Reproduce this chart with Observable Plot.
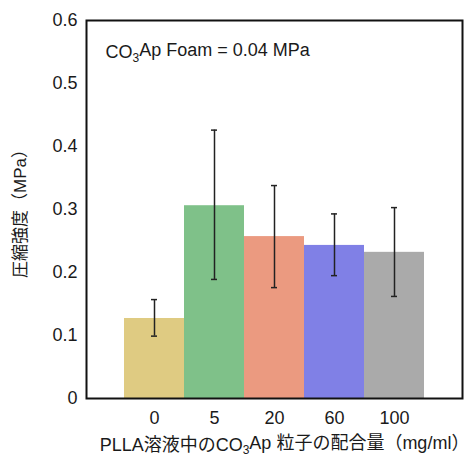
<!DOCTYPE html>
<html><head><meta charset="utf-8">
<script src="https://cdn.jsdelivr.net/npm/d3@7"></script>
<script src="https://cdn.jsdelivr.net/npm/@observablehq/plot@0.6"></script>
<style>
body{margin:0;background:#fff;}
#chart{width:469px;height:459px;}
</style>
</head><body><div id="chart"></div>
<script>
const categories = ["0", "5", "20", "60", "100"];
const strength = [0.127, 0.306, 0.257, 0.243, 0.232];
const errLow = [0.099, 0.189, 0.176, 0.195, 0.162];
const errHigh = [0.157, 0.426, 0.338, 0.293, 0.303];
const barColors = ["#dfcb82", "#7fc189", "#eb9a80", "#8080e6", "#aaaaaa"];
const yTicks = [0, 0.1, 0.2, 0.3, 0.4, 0.5, 0.6];
const annotation = "CO₃Ap Foam = 0.04 MPa";
const xTitle = "PLLA溶液中のCO₃Ap 粒子の配合量（mg/ml）";
const yTitle = "圧縮強度（MPa）";

const data = categories.map((c, i) => ({cat: c, v: strength[i], lo: errLow[i], hi: errHigh[i]}));

const font = "'Liberation Sans', Arial, 'Noto Sans CJK JP', sans-serif";

const chart = Plot.plot({
  width: 469,
  height: 459,
  marginLeft: 86,
  marginRight: 7,
  marginTop: 20,
  marginBottom: 61,
  style: {fontSize: "18px", fontFamily: font, color: "#1a1a1a", background: "#fff"},
  x: {domain: categories, paddingInner: 0, paddingOuter: 0.62, label: null},
  y: {domain: [0, 0.6], label: null},
  color: {domain: categories, range: barColors},
  marks: [
    Plot.barY(data, {x: "cat", y: "v", fill: "cat"}),
    Plot.ruleX(data, {x: "cat", y1: "lo", y2: "hi", stroke: "#222", strokeWidth: 1.5}),
    Plot.tickY(data, {x: "cat", y: "lo", stroke: "#222", strokeWidth: 1.5, insetLeft: 27, insetRight: 27}),
    Plot.tickY(data, {x: "cat", y: "hi", stroke: "#222", strokeWidth: 1.5, insetLeft: 27, insetRight: 27}),
    Plot.axisX({tickSize: 0, tickPadding: 13, label: null, fontSize: 18}),
    Plot.axisY({ticks: yTicks, tickSize: 0, tickPadding: 9, label: null, fontSize: 18,
      tickFormat: d => d === 0 ? "0" : d.toFixed(1)}),
    Plot.frame({stroke: "#111", strokeWidth: 2}),
    Plot.text([annotation], {text: d => d, frameAnchor: "top-left", textAnchor: "start", dx: 19, dy: 25, fontSize: 18, fill: "#1a1a1a"}),
    Plot.text([xTitle], {text: d => d, frameAnchor: "bottom", textAnchor: "middle", dx: 10, dy: 52, fontSize: 18, fill: "#1a1a1a"}),
    Plot.text([yTitle], {text: d => d, frameAnchor: "left", textAnchor: "middle", rotate: -90, dx: -66, fontSize: 17, fill: "#1a1a1a"})
  ]
});
document.getElementById("chart").appendChild(chart);

// render subscript 3 as a real subscript
d3.select(chart).selectAll("text").each(function() {
  const t = this.textContent;
  if (this.children.length === 0 && t.includes("₃")) {
    const parts = t.split("₃");
    const sel = d3.select(this);
    sel.text(null);
    sel.append("tspan").text(parts[0]);
    sel.append("tspan").attr("dy", "0.3em").attr("font-size", "12px").text("3");
    sel.append("tspan").attr("dy", "-0.3em").text(parts[1]);
  }
});
</script>
</body></html>
